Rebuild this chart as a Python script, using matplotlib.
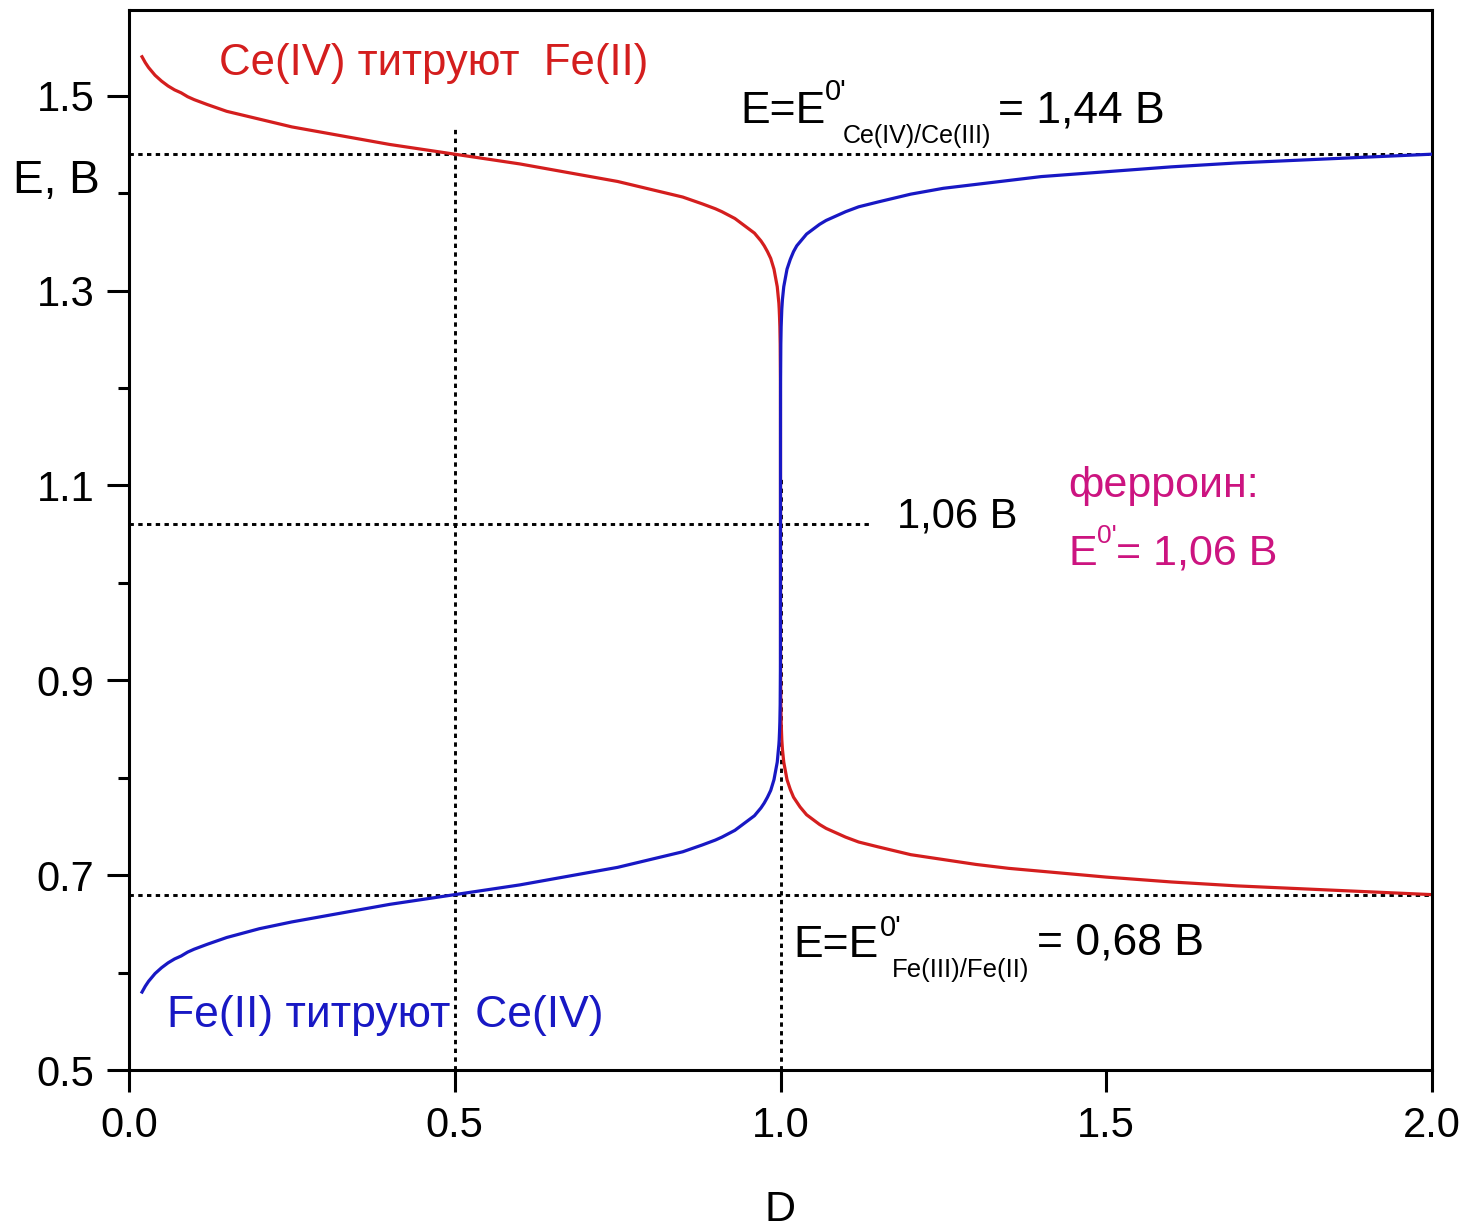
import matplotlib
matplotlib.use("Agg")
import matplotlib.pyplot as plt
from matplotlib.ticker import FixedLocator, FormatStrFormatter

plt.rcParams['font.family'] = ['Liberation Sans', 'DejaVu Sans']

# ---- data ----
D_before = [0.02, 0.025, 0.03, 0.035, 0.04, 0.05, 0.06, 0.07, 0.08, 0.09,
            0.10, 0.12, 0.15, 0.20, 0.25, 0.30, 0.35, 0.40, 0.45, 0.50,
            0.55, 0.60, 0.65, 0.70, 0.75, 0.80, 0.85, 0.88, 0.90, 0.91,
            0.93, 0.95, 0.96, 0.97, 0.975, 0.98, 0.985, 0.99, 0.995, 0.9975,
            0.998, 0.9985, 0.999, 0.9995, 0.9999, 0.99999]
D_after = [1.00001, 1.0001, 1.0005, 1.001, 1.002, 1.003, 1.005, 1.01, 1.015, 1.02,
           1.025, 1.03, 1.04, 1.05, 1.06, 1.07, 1.08, 1.09, 1.10, 1.12,
           1.15, 1.20, 1.25, 1.30, 1.35, 1.40, 1.50, 1.60, 1.70, 1.80,
           1.90, 2.00]

# Fe(II) titrated with Ce(IV)  (blue)
E_fe_before = [0.580, 0.586, 0.591, 0.595, 0.599, 0.605, 0.610, 0.614, 0.617, 0.621,
               0.624, 0.629, 0.636, 0.645, 0.652, 0.658, 0.664, 0.670, 0.675, 0.680,
               0.685, 0.690, 0.696, 0.702, 0.708, 0.716, 0.724, 0.731, 0.736, 0.739,
               0.746, 0.756, 0.761, 0.769, 0.774, 0.780, 0.787, 0.798, 0.816, 0.834,
               0.839, 0.847, 0.857, 0.875, 0.916, 0.975]
E_fe_after = [1.145, 1.204, 1.245, 1.263, 1.281, 1.291, 1.304, 1.322, 1.332, 1.340,
              1.346, 1.350, 1.358, 1.363, 1.368, 1.372, 1.375, 1.378, 1.381, 1.386,
              1.391, 1.399, 1.405, 1.409, 1.413, 1.417, 1.422, 1.427, 1.431, 1.434,
              1.437, 1.440]

# Ce(IV) titrated with Fe(II)  (red)
E_ce_before = [1.540, 1.534, 1.529, 1.525, 1.521, 1.515, 1.510, 1.506, 1.503, 1.499,
               1.496, 1.491, 1.484, 1.476, 1.468, 1.462, 1.456, 1.450, 1.445, 1.440,
               1.435, 1.430, 1.424, 1.418, 1.412, 1.404, 1.396, 1.389, 1.384, 1.381,
               1.374, 1.364, 1.359, 1.351, 1.346, 1.340, 1.333, 1.322, 1.304, 1.287,
               1.281, 1.273, 1.263, 1.245, 1.204, 1.145]
E_ce_after = [0.975, 0.916, 0.875, 0.857, 0.839, 0.829, 0.816, 0.798, 0.788, 0.780,
              0.775, 0.770, 0.762, 0.757, 0.752, 0.748, 0.745, 0.742, 0.739, 0.734,
              0.729, 0.721, 0.716, 0.711, 0.707, 0.704, 0.698, 0.693, 0.689, 0.686,
              0.683, 0.680]

# reference (dotted) lines: horizontal (E, D_from, D_to), vertical (D, E_from, E_to)
h_refs = [(1.44, 0.0, 2.0), (0.68, 0.0, 2.0), (1.06, 0.0, 1.14)]
v_refs = [(0.5, 0.5, 1.468), (1.0, 0.5, 1.11)]

x_ticks = [0.0, 0.5, 1.0, 1.5, 2.0]
y_ticks = [0.5, 0.7, 0.9, 1.1, 1.3, 1.5]
y_minor = [0.6, 0.8, 1.0, 1.2, 1.4]

RED = '#D41E1E'
BLUE = '#1818C4'
MAGENTA = '#CC1480'

W, H = 1466, 1232
fig = plt.figure(figsize=(W / 100, H / 100), dpi=100)
ax = fig.add_axes([129 / W, 1 - 1070 / H, 1303 / W, 1060 / H])

for y, x0, x1 in h_refs:
    ax.plot([x0, x1], [y, y], color='black', lw=2.1, ls=(0, (1.5, 1.5)), zorder=1)
for x, y0, y1 in v_refs:
    ax.plot([x, x], [y0, y1], color='black', lw=2.1, ls=(0, (1.5, 1.5)), zorder=1)

ax.plot(D_before + D_after, E_ce_before + E_ce_after, color=RED, lw=2.3, zorder=2)
ax.plot(D_before + D_after, E_fe_before + E_fe_after, color=BLUE, lw=2.3, zorder=3)

ax.set_xlim(0, 2.0)
ax.set_ylim(0.5, 1.588)
ax.xaxis.set_major_locator(FixedLocator(x_ticks))
ax.yaxis.set_major_locator(FixedLocator(y_ticks))
ax.yaxis.set_minor_locator(FixedLocator(y_minor))
ax.xaxis.set_major_formatter(FormatStrFormatter('%.1f'))
ax.yaxis.set_major_formatter(FormatStrFormatter('%.1f'))
ax.tick_params(axis='both', which='major', direction='out', length=16, width=2.2,
               labelsize=30, top=False, right=False)
ax.tick_params(axis='x', which='major', pad=10)
ax.tick_params(axis='y', which='major', pad=9)
ax.tick_params(axis='y', which='minor', direction='out', length=8, width=2.2)
for s in ax.spines.values():
    s.set_linewidth(2.2)

ax.set_xlabel('D', fontsize=31, va='baseline')
ax.xaxis.set_label_coords(0.5, (1070 - 1221) / 1060)
ax.set_ylabel('E, В', fontsize=33, rotation=0, ha='left', va='baseline')
ax.yaxis.set_label_coords((13 - 129) / 1303, (1070 - 193) / 1060)

kw = dict(ha='left', va='baseline', clip_on=False)
ax.text(0.138, 1.5216, 'Ce(IV) титруют  Fe(II)', color=RED, fontsize=31.5, **kw)
ax.text(0.059, 0.5441, 'Fe(II) титруют  Ce(IV)', color=BLUE, fontsize=32, **kw)

# upper formal potential
ax.text(0.9378, 1.4723, 'E=E', fontsize=32, color='black', **kw)
ax.text(1.0675, 1.4959, "0'", fontsize=21, color='black', **kw)
ax.text(1.0959, 1.4517, 'Ce(IV)/Ce(III)', fontsize=18, color='black', **kw)
ax.text(1.3339, 1.4723, '= 1,44 В', fontsize=32, color='black', **kw)

# lower formal potential
ax.text(1.0192, 0.6160, 'E=E', fontsize=32, color='black', **kw)
ax.text(1.1520, 0.6376, "0'", fontsize=21, color='black', **kw)
ax.text(1.1711, 0.5955, 'Fe(III)/Fe(II)', fontsize=18.5, color='black', **kw)
ax.text(1.3937, 0.6181, '= 0,68 В', fontsize=32, color='black', **kw)

# indicator
ax.text(1.1788, 1.0565, '1,06 В', fontsize=30, color='black', **kw)
ax.text(1.4413, 1.0883, 'ферроин:', fontsize=31, color=MAGENTA, **kw)
ax.text(1.4413, 1.0185, 'E', fontsize=31, color=MAGENTA, **kw)
ax.text(1.4858, 1.0411, "0'", fontsize=19, color=MAGENTA, **kw)
ax.text(1.5150, 1.0185, '= 1,06 В', fontsize=31, color=MAGENTA, **kw)

fig.savefig('out.png', dpi=100)
